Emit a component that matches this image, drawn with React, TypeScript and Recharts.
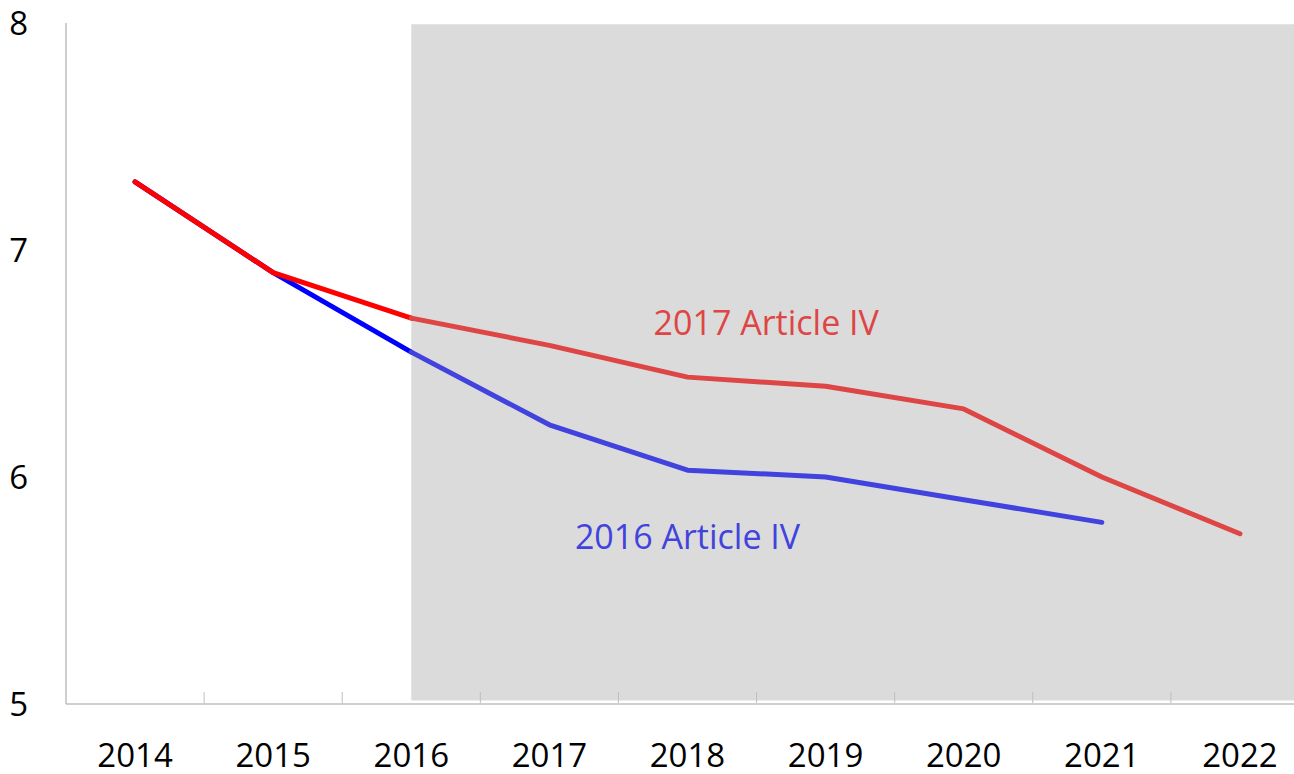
import React from 'react';
import { LineChart, Line, XAxis, YAxis, ReferenceArea, ReferenceDot } from 'recharts';

const years = [2014, 2015, 2016, 2017, 2018, 2019, 2020, 2021, 2022];
const art2017 = [7.3, 6.9, 6.7, 6.58, 6.44, 6.4, 6.3, 6.0, 5.75];
const art2016 = [7.3, 6.9, 6.55, 6.23, 6.03, 6.0, 5.9, 5.8, null];
const lastActual = 2016;
const yTicks = [5, 6, 7, 8];
const xTicks = [2014, 2014.5, 2015, 2015.5, 2016, 2016.5, 2017, 2017.5, 2018, 2018.5, 2019, 2019.5, 2020, 2020.5, 2021, 2021.5, 2022];

const data = years.map((year, i) => ({
  year,
  redHist: year <= lastActual ? art2017[i] : null,
  redProj: year >= lastActual ? art2017[i] : null,
  blueHist: year <= lastActual ? art2016[i] : null,
  blueProj: year >= lastActual ? art2016[i] : null,
}));

const FONT = '"Open Sans", "Noto Sans", sans-serif';
const AXIS = '#BFBFBF';
const RED = '#FF0000';
const RED_P = '#DE4545';
const BLUE = '#0000FF';
const BLUE_P = '#4242DE';

const XTick = (props: any) => {
  const { x, y, payload } = props;
  const v = payload.value;
  if (Math.round(v) !== v) {
    return <line x1={x} x2={x} y1={y - 41} y2={y - 52} stroke={AXIS} strokeWidth={1} />;
  }
  return (
    <text x={x} y={y} dy="0.71em" textAnchor="middle" fill="#000" fontSize={33} fontFamily={FONT}>
      {v}
    </text>
  );
};

export default function App() {
  return (
    <div style={{ position: 'fixed', left: 0, top: 0, width: 1294, height: 774, overflow: 'hidden', background: '#fff' }}>
      <LineChart width={1320} height={774} data={data} margin={{ top: 23, right: 11, left: 0, bottom: 0 }}>
        <ReferenceArea x1={lastActual} x2={2022.5} y1={5.015} y2={7.995} fill="#DBDBDB" fillOpacity={1} stroke="none" ifOverflow="visible" />
        <XAxis
          dataKey="year"
          type="number"
          domain={[2013.5, 2022.5]}
          ticks={xTicks}
          interval={0}
          height={70}
          tickSize={0}
          tickMargin={40}
          tickLine={false}
          axisLine={{ stroke: AXIS, strokeWidth: 1.5 }}
          tick={<XTick />}
        />
        <XAxis xAxisId="top" orientation="top" dataKey="year" type="number" domain={[2013.5, 2022.5]} height={0} tick={false} tickLine={false} axisLine={{ stroke: AXIS, strokeWidth: 1.5 }} />
        <YAxis
          domain={[5, 8]}
          ticks={yTicks}
          width={66}
          tickLine={false}
          tickSize={6}
          tickMargin={32}
          axisLine={{ stroke: AXIS, strokeWidth: 1.5 }}
          tick={{ fill: '#000', fontSize: 33, fontFamily: FONT }}
        />
        <Line dataKey="blueHist" stroke={BLUE} strokeWidth={5} dot={false} isAnimationActive={false} strokeLinecap="round" strokeLinejoin="round" connectNulls={false} />
        <Line dataKey="blueProj" stroke={BLUE_P} strokeWidth={5} dot={false} isAnimationActive={false} strokeLinecap="round" strokeLinejoin="round" connectNulls={false} />
        <Line dataKey="redHist" stroke={RED} strokeWidth={5} dot={false} isAnimationActive={false} strokeLinecap="round" strokeLinejoin="round" connectNulls={false} />
        <Line dataKey="redProj" stroke={RED_P} strokeWidth={5} dot={false} isAnimationActive={false} strokeLinecap="round" strokeLinejoin="round" connectNulls={false} />
        <ReferenceDot x={2018.57} y={6.678} r={0} stroke="none" fill="none" label={{ value: '2017 Article IV', position: 'center', fill: RED_P, fontSize: 34, fontFamily: FONT }} />
        <ReferenceDot x={2018.0} y={5.736} r={0} stroke="none" fill="none" label={{ value: '2016 Article IV', position: 'center', fill: BLUE_P, fontSize: 34, fontFamily: FONT }} />
      </LineChart>
    </div>
  );
}
